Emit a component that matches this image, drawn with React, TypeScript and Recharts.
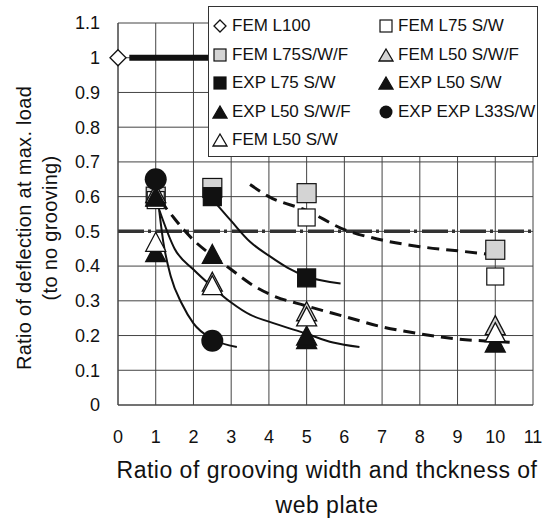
import React from 'react';
import {
  ComposedChart,
  Line,
  Scatter,
  XAxis,
  YAxis,
  CartesianGrid,
  ReferenceLine,
  Label,
} from 'recharts';

const xTicks = [0, 1, 2, 3, 4, 5, 6, 7, 8, 9, 10, 11];
const yTicks = [0, 0.1, 0.2, 0.3, 0.4, 0.5, 0.6, 0.7, 0.8, 0.9, 1, 1.1];

// measured points
const femL100 = [{ x: 0, y: 1.0 }];
const femL75SW = [
  { x: 1, y: 0.59 },
  { x: 5, y: 0.54 },
  { x: 10, y: 0.37 },
];
const femL75SWF = [
  { x: 1, y: 0.6 },
  { x: 2.5, y: 0.625 },
  { x: 5, y: 0.61 },
  { x: 10, y: 0.447 },
];
const expL75SW = [
  { x: 2.5, y: 0.6 },
  { x: 5, y: 0.366 },
];
const femL50SWF = [
  { x: 1, y: 0.61 },
  { x: 2.5, y: 0.355 },
  { x: 5, y: 0.27 },
  { x: 10, y: 0.23 },
];
const expL50SW = [
  { x: 1, y: 0.44 },
  { x: 2.5, y: 0.435 },
  { x: 5, y: 0.19 },
];
const expL50SWF = [
  { x: 1, y: 0.6 },
  { x: 5, y: 0.2 },
  { x: 10, y: 0.18 },
];
const femL50SW = [
  { x: 1, y: 0.47 },
  { x: 2.5, y: 0.345 },
  { x: 5, y: 0.255 },
  { x: 10, y: 0.21 },
];
const expL33SW = [
  { x: 1, y: 0.65 },
  { x: 2.5, y: 0.185 },
];

// trend curves
const lineL100 = [
  { x: 0.3, y: 1 },
  { x: 11, y: 1 },
];
const curveL33 = [
  { x: 1.05, y: 0.6 },
  { x: 1.2, y: 0.47 },
  { x: 1.4, y: 0.37 },
  { x: 1.7, y: 0.29 },
  { x: 2.0, y: 0.235 },
  { x: 2.5, y: 0.19 },
  { x: 3.15, y: 0.167 },
];
const curveL50 = [
  { x: 1.1, y: 0.56 },
  { x: 1.5, y: 0.45 },
  { x: 2, y: 0.39 },
  { x: 2.5, y: 0.34 },
  { x: 3, y: 0.295 },
  { x: 3.5, y: 0.26 },
  { x: 4, y: 0.24 },
  { x: 5, y: 0.205 },
  { x: 5.7, y: 0.18 },
  { x: 6.4, y: 0.167 },
];
const curveL75 = [
  { x: 2.6, y: 0.58 },
  { x: 3, y: 0.53 },
  { x: 3.5, y: 0.47 },
  { x: 4, y: 0.43 },
  { x: 4.5, y: 0.395 },
  { x: 5, y: 0.37 },
  { x: 5.9, y: 0.35 },
];
const dashedLow = [
  { x: 1.1, y: 0.59 },
  { x: 1.4, y: 0.55 },
  { x: 1.7, y: 0.51 },
  { x: 2, y: 0.475 },
  { x: 2.5, y: 0.43 },
  { x: 3, y: 0.39 },
  { x: 3.5, y: 0.35 },
  { x: 4, y: 0.32 },
  { x: 5, y: 0.285 },
  { x: 6, y: 0.255 },
  { x: 7, y: 0.225 },
  { x: 8, y: 0.205 },
  { x: 9, y: 0.19 },
  { x: 10, y: 0.183 },
  { x: 10.5, y: 0.18 },
];
const dashedHigh = [
  { x: 3.5, y: 0.635 },
  { x: 4, y: 0.6 },
  { x: 5, y: 0.56 },
  { x: 6, y: 0.505 },
  { x: 7, y: 0.475 },
  { x: 8, y: 0.456 },
  { x: 9, y: 0.444 },
  { x: 10.2, y: 0.43 },
];

const FONT = '"Liberation Sans", Arial, sans-serif';
const INK = '#111';
const GRAY = '#d4d4d4';

const diamond = (s: number) => (p: any) => (
  <path
    d={`M${p.cx},${p.cy - s}L${p.cx + s},${p.cy}L${p.cx},${p.cy + s}L${p.cx - s},${p.cy}Z`}
    fill="#fff"
    stroke={INK}
    strokeWidth={1.3}
  />
);
const square = (s: number, fill: string) => (p: any) => (
  <rect x={p.cx - s / 2} y={p.cy - s / 2} width={s} height={s} fill={fill} stroke={INK} strokeWidth={1.2} />
);
const triangle = (w: number, h: number, fill: string) => (p: any) => (
  <path
    d={`M${p.cx},${p.cy - h / 2}L${p.cx + w / 2},${p.cy + h / 2}L${p.cx - w / 2},${p.cy + h / 2}Z`}
    fill={fill}
    stroke={INK}
    strokeWidth={1.3}
    strokeLinejoin="miter"
  />
);
const circle = (r: number) => (p: any) => <circle cx={p.cx} cy={p.cy} r={r} fill={INK} />;

const legendItems = [
  { label: 'FEM L100', icon: 'diamond', col: 0, row: 0 },
  { label: 'FEM L75 S/W', icon: 'sqOpen', col: 1, row: 0 },
  { label: 'FEM L75S/W/F', icon: 'sqGray', col: 0, row: 1 },
  { label: 'FEM L50 S/W/F', icon: 'triGray', col: 1, row: 1 },
  { label: 'EXP L75 S/W', icon: 'sqBlack', col: 0, row: 2 },
  { label: 'EXP L50 S/W', icon: 'triBlack', col: 1, row: 2 },
  { label: 'EXP L50 S/W/F', icon: 'triBlack', col: 0, row: 3 },
  { label: 'EXP EXP L33S/W', icon: 'circle', col: 1, row: 3 },
  { label: 'FEM L50 S/W', icon: 'triOpen', col: 0, row: 4 },
];

function LegendIcon({ icon }: { icon: string }) {
  const c = 8;
  let el: React.ReactNode = null;
  if (icon === 'diamond') el = diamond(6)({ cx: c, cy: c });
  if (icon === 'sqOpen') el = square(12, '#fff')({ cx: c, cy: c });
  if (icon === 'sqGray') el = square(12, GRAY)({ cx: c, cy: c });
  if (icon === 'sqBlack') el = square(12, INK)({ cx: c, cy: c });
  if (icon === 'triGray') el = triangle(14, 12, GRAY)({ cx: c, cy: c });
  if (icon === 'triBlack') el = triangle(14, 12, INK)({ cx: c, cy: c });
  if (icon === 'triOpen') el = triangle(14, 12, '#fff')({ cx: c, cy: c });
  if (icon === 'circle') el = circle(6.5)({ cx: c, cy: c });
  return (
    <svg width={16} height={16} style={{ display: 'block' }}>
      {el}
    </svg>
  );
}

function ChartLegend() {
  return (
    <div
      style={{
        position: 'absolute',
        left: 208,
        top: 6,
        width: 330,
        height: 151,
        boxSizing: 'border-box',
        background: '#fff',
        border: '1px solid #333',
        fontFamily: FONT,
        fontSize: 17,
        color: INK,
      }}
    >
      {legendItems.map((it) => (
        <div
          key={it.label}
          style={{
            position: 'absolute',
            left: it.col === 0 ? 3 : 169,
            top: 9 + it.row * 28.5,
            display: 'flex',
            alignItems: 'center',
            gap: 4,
            whiteSpace: 'nowrap',
          }}
        >
          <LegendIcon icon={it.icon} />
          <span>{it.label}</span>
        </div>
      ))}
    </div>
  );
}

const YTitle = () => (
  <g fontFamily={FONT} fontSize={20} fill={INK} letterSpacing={0.3}>
    <text x={31} y={228} transform="rotate(-90 31 228)" textAnchor="middle">
      Ratio of deflection at max. load
    </text>
    <text x={57} y={228} transform="rotate(-90 57 228)" textAnchor="middle">
      (to no grooving)
    </text>
  </g>
);

const XTitle = () => (
  <g fontFamily={FONT} fontSize={23} fill={INK} letterSpacing={0.5}>
    <text x={327} y={478} textAnchor="middle">
      Ratio of grooving width and thckness of
    </text>
    <text x={327} y={513} textAnchor="middle">
      web plate
    </text>
  </g>
);

export default function App() {
  const tick = { fontFamily: FONT, fontSize: 18, fill: INK };
  const solid = { stroke: INK, strokeWidth: 2, dot: false, activeDot: false, type: 'monotone' as const };
  const dashed = { ...solid, strokeWidth: 3, strokeDasharray: '12 7' };
  return (
    <div style={{ position: 'absolute', left: 0, top: 0, width: 543, height: 519, background: '#fff' }}>
      <ComposedChart width={543} height={519} margin={{ top: 23, right: 10, bottom: 84, left: 58 }}>
        <CartesianGrid stroke="#444" strokeWidth={1} />
        <XAxis
          type="number"
          dataKey="x"
          domain={[0, 11]}
          ticks={xTicks}
          interval={0}
          tick={tick}
          tickLine={false}
          tickSize={0}
          tickMargin={25}
          axisLine={{ stroke: '#444' }}
          height={30}
          allowDuplicatedCategory={false}
        >
          <Label content={XTitle} />
        </XAxis>
        <YAxis
          type="number"
          dataKey="y"
          domain={[0, 1.1]}
          ticks={yTicks}
          interval={0}
          tick={tick}
          tickLine={false}
          tickSize={0}
          tickMargin={18}
          axisLine={{ stroke: '#444' }}
          width={60}
          tickFormatter={(v: number) => String(v)}
        >
          <Label content={YTitle} />
        </YAxis>
        <ReferenceLine y={0.5} stroke="#333" strokeWidth={3.5} strokeDasharray="26 4 3 5" />
        <Line data={lineL100} dataKey="y" {...solid} type="linear" strokeWidth={6} isAnimationActive={false} />
        <Line data={curveL33} dataKey="y" {...solid} isAnimationActive={false} />
        <Line data={curveL50} dataKey="y" {...solid} isAnimationActive={false} />
        <Line data={curveL75} dataKey="y" {...solid} isAnimationActive={false} />
        <Line data={dashedLow} dataKey="y" {...dashed} isAnimationActive={false} />
        <Line data={dashedHigh} dataKey="y" {...dashed} isAnimationActive={false} />
        <Scatter data={femL75SWF} dataKey="y" shape={square(19, GRAY)} isAnimationActive={false} />
        <Scatter data={femL75SW} dataKey="y" shape={square(17, '#fff')} isAnimationActive={false} />
        <Scatter data={expL75SW} dataKey="y" shape={square(18, INK)} isAnimationActive={false} />
        <Scatter data={femL50SWF} dataKey="y" shape={triangle(20, 19, GRAY)} isAnimationActive={false} />
        <Scatter data={expL50SW} dataKey="y" shape={triangle(20, 19, INK)} isAnimationActive={false} />
        <Scatter data={expL50SWF} dataKey="y" shape={triangle(20, 19, INK)} isAnimationActive={false} />
        <Scatter data={femL50SW} dataKey="y" shape={triangle(20, 19, '#fff')} isAnimationActive={false} />
        <Scatter data={expL33SW} dataKey="y" shape={circle(11)} isAnimationActive={false} />
        <Scatter data={femL100} dataKey="y" shape={diamond(8)} isAnimationActive={false} />
      </ComposedChart>
      <ChartLegend />
    </div>
  );
}
